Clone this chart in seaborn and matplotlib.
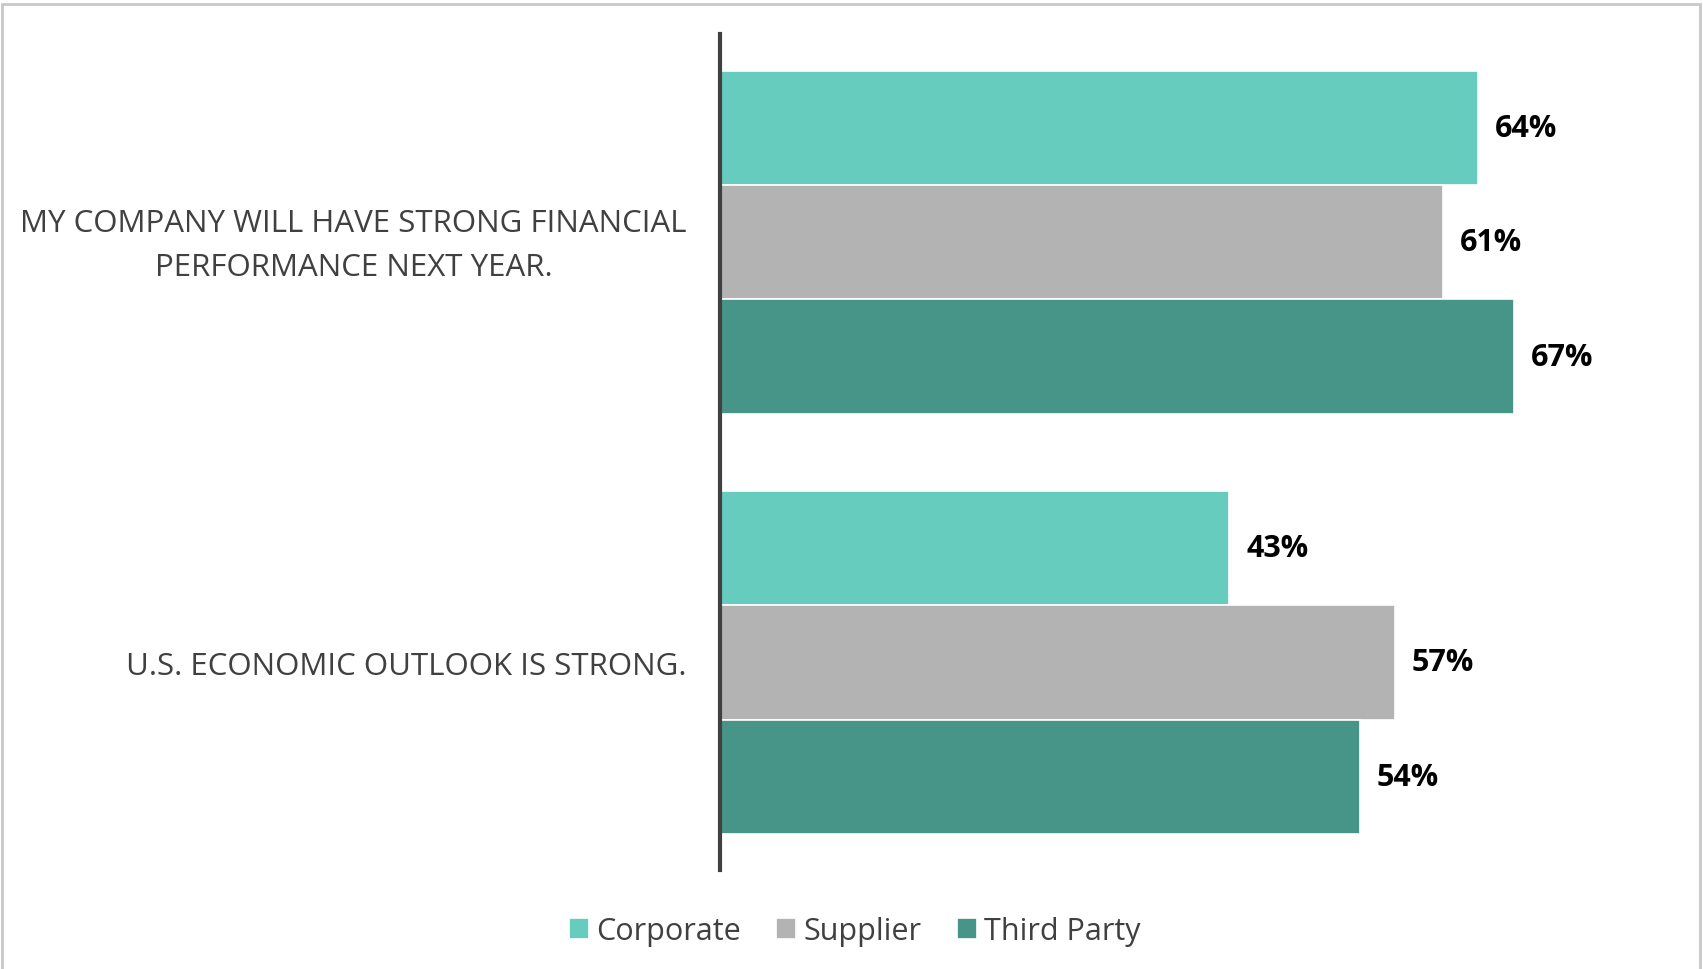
import matplotlib
matplotlib.use("Agg")
import matplotlib.pyplot as plt
from matplotlib.patches import Rectangle
from matplotlib.transforms import ScaledTranslation
import seaborn as sns
import pandas as pd

statements = [
    "MY COMPANY WILL HAVE STRONG FINANCIAL\nPERFORMANCE NEXT YEAR.",
    "U.S. ECONOMIC OUTLOOK IS STRONG.",
]
groups = ["Corporate", "Supplier", "Third Party"]
corporate = [64, 43]
supplier = [61, 57]
third_party = [67, 54]
palette = ["#66CDBE", "#B3B3B3", "#479588"]

rows = []
for g, vals in zip(groups, [corporate, supplier, third_party]):
    for s, v in zip(statements, vals):
        rows.append({"statement": s, "group": g, "value": v})
df = pd.DataFrame(rows)

sns.set_theme(style="white")
plt.rcParams["font.family"] = ["Open Sans", "DejaVu Sans"]

fig = plt.figure(figsize=(17.03, 9.70), dpi=100)
ax = fig.add_axes([0.4228, 0.102, 0.567, 0.862])

sns.barplot(data=df, y="statement", x="value", hue="group", order=statements,
            hue_order=groups, palette=palette, orient="h", width=0.816,
            edgecolor="white", linewidth=1.2, saturation=1, ax=ax, legend=True)

for cont in ax.containers:
    ax.bar_label(cont, fmt="%d%%", padding=12, fontsize=22, fontweight="bold",
                 color="black")

ax.set_xlim(0, 81.5)
ax.set_ylim(1.494, -0.496)
ax.set_xlabel("")
ax.set_ylabel("")
ax.set_xticks([])
for side in ["top", "right", "bottom"]:
    ax.spines[side].set_visible(False)
ax.spines["left"].set_color("#404040")
ax.spines["left"].set_linewidth(3)
ax.tick_params(axis="y", length=0, pad=24)
for lbl in ax.get_yticklabels():
    lbl.set_fontsize(22.5)
    lbl.set_color("#404040")
    lbl.set_multialignment("center")
    lbl.set_linespacing(1.62)
    if "\n" in lbl.get_text():
        # nudge the two-line label up so the block sits centred on its bars
        lbl.set_transform(lbl.get_transform()
                          + ScaledTranslation(0, 0.08, fig.dpi_scale_trans))

handles, labels = ax.get_legend_handles_labels()
ax.legend_.remove()
fig.legend(handles, labels, loc="center", bbox_to_anchor=(0.502, 0.039), ncol=3,
           frameon=False, fontsize=22, labelcolor="#404040", handlelength=0.65,
           handleheight=0.65, handletextpad=0.25, columnspacing=1.15)

fig.patches.append(Rectangle((0.001, -0.01), 0.997, 1 - 0.004 + 0.01 - 0.001,
                             transform=fig.transFigure, fill=False,
                             edgecolor="#C8C8C8", linewidth=2))

fig.savefig("out.png", dpi=100)
